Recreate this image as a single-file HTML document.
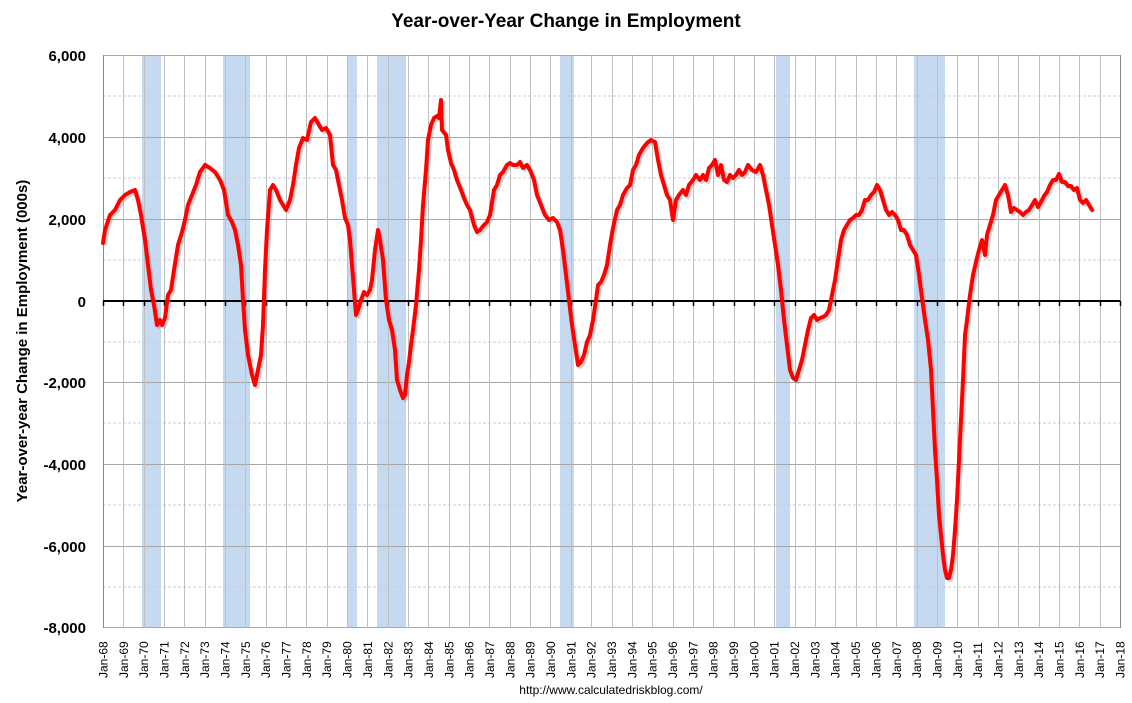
<!DOCTYPE html>
<html><head><meta charset="utf-8"><style>
html,body{margin:0;padding:0;background:#fff;}
svg{display:block;font-family:"Liberation Sans",Arial,sans-serif;}
</style></head><body>
<svg width="1132" height="703" viewBox="0 0 1132 703" xmlns="http://www.w3.org/2000/svg">
<rect width="1132" height="703" fill="#fff"/>
<text x="566" y="27" text-anchor="middle" font-size="19" font-weight="bold">Year-over-Year Change in Employment</text>
<g fill="#c5d9f1">
<rect x="142" y="55" width="19" height="573"/>
<rect x="223" y="55" width="27" height="573"/>
<rect x="347" y="55" width="10" height="573"/>
<rect x="377" y="55" width="29" height="573"/>
<rect x="560" y="55" width="14" height="573"/>
<rect x="776" y="55" width="14" height="573"/>
<rect x="914" y="55" width="31" height="573"/>
</g>
<g id="grid" stroke="#ccc" stroke-width="1" stroke-dasharray="3,2">
<line x1="103" x2="1120" y1="96" y2="96"/><line x1="103" x2="1120" y1="178" y2="178"/><line x1="103" x2="1120" y1="260" y2="260"/><line x1="103" x2="1120" y1="342" y2="342"/><line x1="103" x2="1120" y1="423" y2="423"/><line x1="103" x2="1120" y1="505" y2="505"/><line x1="103" x2="1120" y1="587" y2="587"/>
</g>
<g stroke="#a6a6a6" stroke-width="1">
<line x1="103" x2="1120" y1="55.5" y2="55.5"/><line x1="103" x2="1120" y1="137.5" y2="137.5"/><line x1="103" x2="1120" y1="219.5" y2="219.5"/><line x1="103" x2="1120" y1="382.5" y2="382.5"/><line x1="103" x2="1120" y1="464.5" y2="464.5"/><line x1="103" x2="1120" y1="546.5" y2="546.5"/><line x1="103" x2="1120" y1="627.5" y2="627.5"/>
</g>
<g id="vg" stroke="#bfbfbf" stroke-width="1"></g>
<line x1="103.5" y1="55" x2="103.5" y2="628" stroke="#888"/>
<line x1="1120.5" y1="55" x2="1120.5" y2="628" stroke="#888"/>
<line x1="103" y1="301" x2="1120" y2="301" stroke="#000" stroke-width="2"/>
<g id="ticks" stroke="#000" stroke-width="1.5"></g>
<g font-size="15" font-weight="bold" text-anchor="end">
<text x="86" y="61">6,000</text><text x="86" y="143">4,000</text><text x="86" y="225">2,000</text><text x="86" y="307">0</text><text x="86" y="388">-2,000</text><text x="86" y="470">-4,000</text><text x="86" y="552">-6,000</text><text x="86" y="633">-8,000</text>
</g>
<text transform="translate(27,341) rotate(-90)" text-anchor="middle" font-size="15" font-weight="bold">Year-over-year Change in Employment (000s)</text>
<g id="xl" font-size="12"></g>
<text x="611" y="694" text-anchor="middle" font-size="12">http://www.calculatedriskblog.com/</text>
<polyline fill="none" stroke="#888" stroke-opacity="0.35" stroke-width="4" stroke-linejoin="round" transform="translate(2,2)" id="sh"/>
<polyline fill="none" stroke="#ff0000" stroke-width="4" stroke-linejoin="round" stroke-linecap="round" id="ln"
points="103,243 105,230 110,215 115,210 120,200 125,195 130,192 135,190 138,200 141,215 145,240 148,265 151,290 154,305 157,325 160,320 162,325 165,318 168,295 171,290 174,270 178,245 182,232 185,220 188,205 192,195 196,185 200,172 205,165 210,168 215,172 220,180 224,190 228,215 232,222 235,230 238,245 241,265 243,300 245,330 248,355 252,375 255,385 258,370 261,355 263,325 265,270 267,230 270,190 273,185 276,190 280,200 283,205 286,210 290,200 293,185 296,165 299,148 303,138 307,140 311,122 315,118 319,125 322,130 326,128 330,135 333,165 336,170 339,185 342,200 345,218 348,225 350,240 352,265 354,290 356,315 358,310 361,300 364,292 367,295 370,290 372,280 375,250 378,230 380,240 383,260 386,300 389,320 392,330 395,350 397,380 400,390 403,398 405,395 407,375 409,362 411,345 413,330 416,305 419,270 421,240 423,205 426,170 428,140 431,125 434,118 437,116 439,118 441,100 442,130 446,135 448,150 451,163 454,170 457,180 461,190 464,198 467,205 470,210 474,225 477,232 480,230 484,225 487,222 490,215 494,190 497,185 500,175 503,172 507,165 510,163 513,165 517,165 520,162 523,168 527,165 530,170 534,180 537,195 541,205 545,215 549,220 553,218 557,222 560,230 563,250 566,275 569,300 572,325 575,345 578,365 581,362 584,355 587,342 590,335 593,320 596,300 598,285 601,282 604,275 607,265 610,245 613,228 617,210 620,205 623,195 627,188 630,185 633,170 636,165 639,155 643,148 647,143 651,140 655,142 658,160 661,175 664,185 667,195 670,200 673,220 676,200 679,195 683,190 686,195 689,185 693,180 696,175 700,180 703,175 706,180 709,168 712,165 715,160 718,175 721,165 724,180 727,182 730,175 733,178 736,175 739,170 742,175 745,172 748,165 752,170 756,172 760,165 763,175 766,190 769,205 772,225 775,245 778,265 781,290 784,320 787,345 790,370 793,378 796,380 799,370 802,360 805,345 808,330 811,318 814,315 817,320 820,318 823,317 826,315 829,310 832,295 835,280 838,260 841,240 844,230 847,225 850,220 853,218 856,215 859,215 862,210 865,200 868,200 871,195 874,192 877,185 880,190 883,200 886,210 889,215 892,212 895,215 898,220 901,230 904,230 907,235 910,245 913,250 916,255 919,275 922,298 925,320 928,340 931,370 933,410 935,450 937,480 939,515 941,535 943,555 945,570 947,578 949,578 951,570 953,555 955,530 957,500 959,460 961,420 963,380 965,335 967,320 970,295 973,275 976,262 979,250 982,240 985,255 987,235 990,225 993,215 996,200 999,195 1002,190 1005,185 1008,195 1011,212 1014,208 1017,210 1020,212 1023,215 1026,212 1029,210 1032,205 1035,200 1038,207 1041,202 1044,196 1047,192 1050,185 1053,180 1056,180 1059,174 1062,182 1065,182 1068,186 1071,186 1074,190 1077,188 1080,200 1083,203 1086,200 1089,205 1092,210"/>
<script>
var ns="http://www.w3.org/2000/svg";
var vg=document.getElementById('vg'),tk=document.getElementById('ticks'),xl=document.getElementById('xl');
for(var i=0;i<=50;i++){var x=103+i*20.34;var xr=Math.round(x)+0.5;
 if(i>0&&i<50){var l=document.createElementNS(ns,'line');l.setAttribute('x1',xr);l.setAttribute('x2',xr);l.setAttribute('y1',55);l.setAttribute('y2',628);vg.appendChild(l);}
 var t=document.createElementNS(ns,'line');t.setAttribute('x1',xr);t.setAttribute('x2',xr);t.setAttribute('y1',301);t.setAttribute('y2',306);tk.appendChild(t);
 var yy=(68+i)%100;var s='Jan-'+(yy<10?'0':'')+yy;
 var tx=document.createElementNS(ns,'text');tx.setAttribute('transform','translate('+(x+4.5)+',678) rotate(-90)');tx.textContent=s;xl.appendChild(tx);}
document.getElementById('sh').setAttribute('points',document.getElementById('ln').getAttribute('points'));
</script>
</svg>
</body></html>
